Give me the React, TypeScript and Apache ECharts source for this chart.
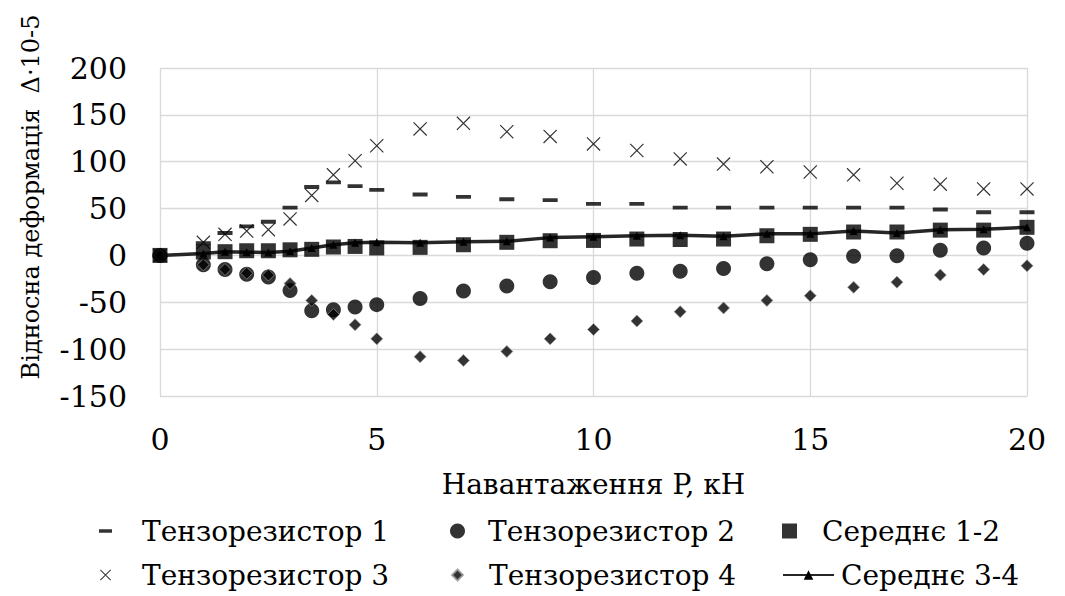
import React, { useEffect, useRef } from "react";
import * as echarts from "echarts";

const loads = [0, 1, 1.5, 2, 2.5, 3, 3.5, 4, 4.5, 5, 6, 7, 8, 9, 10, 11, 12, 13, 14, 15, 16, 17, 18, 19, 20];
const gauge1 = [0, 13, 24, 31, 36, 51, 73, 78, 74, 70, 65, 62.5, 60, 59, 55, 55, 51, 51, 51, 51, 51, 51, 49, 46, 46];
const gauge2 = [0, -10, -15, -20, -23, -37.5, -59, -58, -55, -52.5, -46, -38, -32.5, -28, -23.5, -19, -17, -14, -9, -4.6, -1, -0.4, 5.4, 8, 13];
const mean12 = [0, 3.6, 4, 5, 5, 6, 6.5, 9, 9.6, 8, 8.6, 11.4, 14, 15.7, 16, 17.5, 17, 17.5, 21, 22.5, 25, 25, 27, 27, 30];
const gauge3 = [0, 14, 22.5, 26, 27.5, 39, 64, 86, 101, 117, 135, 141, 132, 127, 119, 112, 103, 97.5, 94.6, 89, 86, 77, 76, 71, 71];
const gauge4 = [0, -10, -15, -19, -21, -30, -48, -63, -74, -89, -108, -112, -102.5, -89, -79, -70, -60, -56, -48, -43, -34, -28.5, -21, -15, -11];
const mean34 = [0, 2, 4, 3.5, 3, 4.5, 8, 11.5, 13.5, 14, 13.5, 14.5, 15, 19, 20, 21, 21.5, 20.5, 23, 23, 26, 24, 27.5, 28, 30];

const seriesNames = ["Тензорезистор 1", "Тензорезистор 2", "Середнє 1-2", "Тензорезистор 3", "Тензорезистор 4", "Середнє 3-4"];
const xTitle = "Навантаження P, кН";
const yTitle = "Відносна деформація  Δ·10-5";

const FONT = "DejaVu Serif";
const DASH = "path://M0,0L0.1,0L0.1,0.1ZM0,37L100,37L100,63L0,63ZM99.9,99.9L100,99.9L100,100Z";
const CROSS = "path://M0,6L6,0L100,94L94,100ZM94,0L100,6L6,100L0,94Z";
const SQUARE = "path://M0,0L100,0L100,100L0,100Z";

const pair = (ys: number[]) => loads.map((x, i) => [x, ys[i]]);

export default function App() {
  const ref = useRef<HTMLDivElement>(null);
  useEffect(() => {
    document.body.style.margin = "0";
    const chart = echarts.init(ref.current!, null, { renderer: "svg" });
    const legendText = (pad: number) => ({
      fontFamily: FONT,
      fontSize: 28,
      color: "#000",
      padding: [0, 0, 0, pad],
    });
    chart.setOption({
      animation: false,
      backgroundColor: "#fff",
      textStyle: { fontFamily: FONT },
      grid: { left: 160, right: 38, top: 68, bottom: 200, containLabel: false },
      xAxis: {
        type: "value",
        min: 0,
        max: 20,
        interval: 5,
        name: xTitle,
        nameLocation: "middle",
        nameGap: 74,
        nameTextStyle: { fontFamily: FONT, fontSize: 28, color: "#000" },
        axisLine: { show: false },
        axisTick: { show: false },
        axisLabel: { fontFamily: FONT, fontSize: 30, color: "#000", margin: 28 },
        splitLine: { show: true, lineStyle: { color: "#d9d9d9", width: 1.3 } },
      },
      yAxis: {
        type: "value",
        min: -150,
        max: 200,
        interval: 50,
        axisLine: { show: false },
        axisTick: { show: false },
        axisLabel: { fontFamily: FONT, fontSize: 30, color: "#000", margin: 33 },
        splitLine: { show: true, lineStyle: { color: "#d9d9d9", width: 1.3 } },
      },
      graphic: [
        {
          type: "text",
          x: 31,
          y: 197,
          rotation: Math.PI / 2,
          style: {
            text: yTitle,
            fontFamily: FONT,
            fontSize: 24,
            fill: "#000",
            align: "center",
            verticalAlign: "middle",
          },
        },
      ],
      legend: [
        { data: [{ name: seriesNames[0], icon: DASH }], left: 94, top: 512, itemWidth: 13, itemHeight: 13, textStyle: legendText(25) },
        { data: [{ name: seriesNames[1], icon: "circle" }], left: 445, top: 512, itemWidth: 15, itemHeight: 15, textStyle: legendText(18) },
        { data: [{ name: seriesNames[2], icon: SQUARE }], left: 777, top: 512, itemWidth: 51, itemHeight: 15, textStyle: legendText(2) },
        { data: [{ name: seriesNames[3], icon: CROSS }], left: 95, top: 556, itemWidth: 11, itemHeight: 11, textStyle: legendText(26) },
        { data: [{ name: seriesNames[4], icon: "diamond" }], left: 446, top: 556, itemWidth: 11, itemHeight: 11, textStyle: legendText(21) },
        { data: [{ name: seriesNames[5] }], left: 777, top: 556, itemWidth: 51, itemHeight: 12, textStyle: legendText(2) },
      ],
      series: [
        { name: seriesNames[0], type: "scatter", data: pair(gauge1), symbol: DASH, symbolSize: 15, itemStyle: { color: "#000" } },
        { name: seriesNames[1], type: "scatter", data: pair(gauge2), symbol: "circle", symbolSize: 15, itemStyle: { color: "#000" } },
        { name: seriesNames[2], type: "scatter", data: pair(mean12), symbol: SQUARE, symbolSize: 15, z: 5, itemStyle: { color: "#000" } },
        { name: seriesNames[3], type: "scatter", data: pair(gauge3), symbol: CROSS, symbolSize: 14, itemStyle: { color: "#000" } },
        { name: seriesNames[4], type: "scatter", data: pair(gauge4), symbol: "diamond", symbolSize: 12, itemStyle: { color: "#000", borderColor: "#9a9a9a", borderWidth: 0.8 } },
        { name: seriesNames[5], type: "line", data: pair(mean34), symbol: "triangle", symbolSize: 8, showSymbol: true, z: 4, itemStyle: { color: "#000" }, lineStyle: { color: "#262626", width: 3.5 } },
      ],
    });
    return () => chart.dispose();
  }, []);
  return <div ref={ref} style={{ width: 1065, height: 596 }} />;
}
